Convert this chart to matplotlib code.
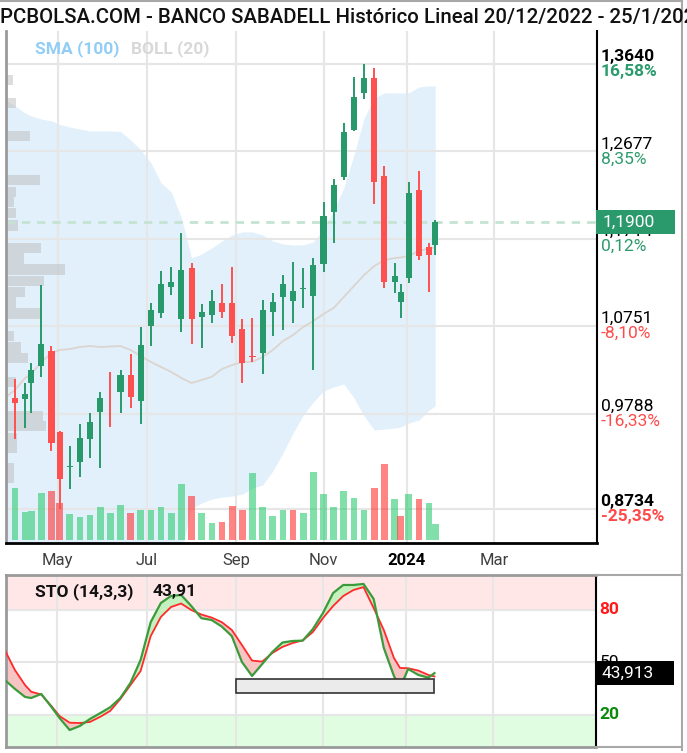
import numpy as np
import pandas as pd
import matplotlib
matplotlib.use("Agg")
import matplotlib.pyplot as plt
import matplotlib.transforms as mtransforms
from matplotlib.patches import Rectangle
from matplotlib.lines import Line2D

plt.rcParams['font.family'] = ['Roboto', 'DejaVu Sans']

title = "PCBOLSA.COM - BANCO SABADELL Histórico Lineal 20/12/2022 - 25/1/2024"

# market holidays: the x axis counts trading days only
holidays = ['2023-04-07', '2023-04-10', '2023-05-01', '2023-12-25', '2023-12-26',
            '2024-01-01', '2024-03-29', '2024-04-01', '2024-05-01']

# weekly candles, dated mid-week; the last one is the running week
weeks = list(pd.date_range('2023-03-29', '2024-01-17', freq='W-WED').strftime('%Y-%m-%d')) + ['2024-01-22']
# indicator series start one week earlier (left edge of the chart)
ind_dates = ['2023-03-22'] + weeks

opens = [0.9958, 0.9947, 1.0123, 1.0317, 1.0483, 0.9584, 0.9205, 0.9253, 0.9507, 0.9811,
         1.0000, 1.0024, 1.0215, 0.9929, 1.0755, 1.0894, 1.1187, 1.0835, 1.1390, 1.0857,
         1.0876, 1.1005, 1.1005, 1.0718, 1.0424, 1.0454, 1.0912, 1.1071, 1.1030, 1.1160,
         1.1088, 1.1434, 1.2013, 1.2396, 1.2913, 1.3324, 1.3489, 1.2410, 1.1242, 1.1016,
         1.1287, 1.2252, 1.1621, 1.1647]
highs = [1.0168, 1.0123, 1.0344, 1.1206, 1.0534, 0.9602, 0.9436, 0.9672, 0.9793, 1.0031,
         1.0245, 1.0270, 1.0443, 1.0747, 1.1005, 1.1364, 1.1408, 1.1775, 1.1445, 1.0997,
         1.1151, 1.1214, 1.1408, 1.0828, 1.0846, 1.1041, 1.1121, 1.1316, 1.1463, 1.1390,
         1.1500, 1.2123, 1.2370, 1.2987, 1.3500, 1.3640, 1.3599, 1.2520, 1.1445, 1.1214,
         1.2344, 1.2462, 1.1665, 1.1922]
lows = [0.9510, 0.9628, 0.9800, 1.0190, 0.9381, 0.8734, 0.8956, 0.9088, 0.9298, 0.9187,
        0.9645, 0.9800, 0.9855, 0.9672, 1.0534, 1.0839, 1.1096, 1.0692, 1.0553, 1.0516,
        1.0784, 1.0846, 1.0571, 1.0130, 1.0361, 1.0226, 1.0644, 1.0710, 1.0784, 1.0956,
        1.0270, 1.1346, 1.1672, 1.2362, 1.2902, 1.3255, 1.2095, 1.1170, 1.1115, 1.0839,
        1.1225, 1.1481, 1.1132, 1.1536]
closes = [0.9910, 1.0006, 1.0270, 1.0556, 0.9469, 0.9066, 0.9215, 0.9524, 0.9694, 0.9965,
          0.9990, 1.0215, 0.9969, 1.0542, 1.0931, 1.1217, 1.1236, 1.1371, 1.0835, 1.0909,
          1.1027, 1.0912, 1.0644, 1.0350, 1.0410, 1.0931, 1.1022, 1.1217, 1.1140, 1.1170,
          1.1426, 1.1966, 1.2307, 1.2894, 1.3277, 1.3489, 1.2337, 1.1236, 1.1309, 1.1132,
          1.2216, 1.1529, 1.1537, 1.1900]
# weekly volume, millions of shares
volumes = [209, 111, 117, 189, 196, 147, 105, 92, 99, 133,
           107, 140, 107, 119, 120, 133, 107, 224, 176, 107,
           69, 71, 135, 120, 267, 133, 97, 120, 120, 107,
           273, 183, 133, 196, 169, 120, 209, 303, 163, 97,
           183, 163, 149, 63]

boll_up = [1.3244, 1.3177, 1.3100, 1.3067, 1.3034, 1.3012, 1.2974, 1.2946, 1.2924, 1.2902,
           1.2902, 1.2902, 1.2897, 1.2803, 1.2693, 1.2550, 1.2329, 1.2230, 1.1944, 1.1503,
           1.1548, 1.1614, 1.1691, 1.1757, 1.1790, 1.1790, 1.1757, 1.1691, 1.1658, 1.1647,
           1.1647, 1.1680, 1.1823, 1.2032, 1.2274, 1.2638, 1.3045, 1.3266, 1.3321, 1.3321,
           1.3321, 1.3321, 1.3387, 1.3398, 1.3398]
boll_low = [0.812, 0.806, 0.803, 0.801, 0.800, 0.795, 0.790, 0.786, 0.784, 0.783,
            0.784, 0.786, 0.790, 0.797, 0.805, 0.812, 0.818, 0.822, 0.828, 0.8750,
            0.8805, 0.8849, 0.8871, 0.8882, 0.8904, 0.8970, 0.9004, 0.9158, 0.9356, 0.9576,
            0.9774, 0.9918, 1.0039, 1.0083, 1.0116, 0.9962, 0.9763, 0.9609, 0.9620, 0.9631,
            0.9642, 0.9686, 0.9719, 0.9830, 0.9874]
sma = [0.9962, 1.0050, 1.0182, 1.0226, 1.0358, 1.0457, 1.0490, 1.0501, 1.0523, 1.0534,
       1.0523, 1.0529, 1.0534, 1.0490, 1.0424, 1.0358, 1.0303, 1.0248, 1.0182, 1.0127,
       1.0160, 1.0196, 1.0281, 1.0325, 1.0358, 1.0361, 1.0413, 1.0490, 1.0589, 1.0655,
       1.0744, 1.0810, 1.0887, 1.0953, 1.1074, 1.1195, 1.1316, 1.1415, 1.1481, 1.1503,
       1.1509, 1.1526, 1.1581, 1.1608, 1.1619]

sto_k = [40.0, 34.9, 30.3, 29.7, 32.0, 24.6, 18.3, 11.4, 13.7, 17.7,
         21.0, 24.4, 29.7, 38.3, 51.4, 73.1, 84.0, 88.0, 88.6, 82.3,
         75.3, 74.3, 70.6, 65.1, 50.3, 42.3, 49.1, 56.0, 61.4, 62.3,
         62.5, 69.1, 78.3, 89.7, 94.3, 94.3, 94.9, 86.3, 58.3, 42.3,
         35.4, 46.3, 42.9, 41.3, 43.91]
sto_d = [57.1, 45.7, 37.1, 33.3, 31.7, 25.1, 19.4, 15.6, 15.4, 16.0,
         18.9, 22.3, 29.1, 37.1, 45.1, 65.1, 76.0, 81.7, 83.7, 80.0,
         77.4, 75.7, 73.1, 68.6, 60.0, 51.1, 50.5, 55.4, 58.9, 61.1,
         62.6, 67.4, 75.4, 82.3, 88.0, 91.4, 93.1, 81.1, 68.6, 52.6,
         46.9, 46.7, 45.4, 42.9, 42.0]

# volume-at-price profile on the left
prof_price = [1.3464, 1.3210, 1.2847, 1.2362, 1.2230, 1.2120, 1.1999, 1.1861, 1.1614, 1.1498,
              1.1377, 1.1250, 1.1129, 1.1013, 1.0892, 1.0644, 1.0518, 1.0402, 1.0138, 0.9763,
              0.9653, 0.9521, 0.9411, 0.9191, 0.9081]
prof_vol = [12, 17, 41, 58, 17, 14, 17, 20, 59, 30,
            100, 64, 32, 17, 59, 14, 25, 37, 17, 63,
            68, 19, 19, 14, 14]

price_ticks = [1.3640, 1.2677, 1.1714, 1.0751, 0.9788, 0.8734]
price_labels = ['1,3640', '1,2677', '1,1714', '1,0751', '0,9788', '0,8734']
pct_labels = ['16,58%', '8,35%', '0,12%', '-8,10%', '-16,33%', '-25,35%']
last_price = 1.19

month_starts = ['2023-05-01', '2023-07-01', '2023-09-01', '2023-11-01', '2024-01-01', '2024-03-01']
month_labels = ['May', 'Jul', 'Sep', 'Nov', '2024', 'Mar']

box_start, box_end = '2023-09-01', '2024-01-22'
box_lo, box_hi = 32.4, 40.4

GREEN = '#27996a'
RED = '#ff5050'
GRID = '#e6e6e6'
PCT_GREEN = '#2b9b6c'
PCT_RED = '#ff4a4a'


def trading_day(dates):
    d = np.array(dates, dtype='datetime64[D]')
    return np.busday_count('2024-01-02', d, holidays=holidays)


xc = trading_day(weeks)
xi = trading_day(ind_dates)
first_days = np.busday_offset(np.array(month_starts, dtype='datetime64[D]'), 0,
                              roll='forward', holidays=holidays)
xm = trading_day(first_days)
xlim = (-197.4, 93.7)

W, H = 687, 753
fig = plt.figure(figsize=(W / 100, H / 100), dpi=100)


def box(l, t, r, b):
    return [l / W, 1 - b / H, (r - l) / W, (b - t) / H]


main_box = box(6, 31, 597, 543)
axb = fig.add_axes(main_box)
axpr = fig.add_axes(main_box)
axv = fig.add_axes(main_box)
axp = fig.add_axes(main_box)
axs = fig.add_axes(box(6, 575, 596, 747))

ylim = (0.8365, 1.4003)

# background: grid + bollinger band
axb.set_xlim(xlim)
axb.set_ylim(ylim)
for v in price_ticks:
    axb.axhline(v, color=GRID, lw=1.5, zorder=2)
for t in xm:
    axb.axvline(t, color=GRID, lw=1.5, zorder=2)
axb.fill_between(xi, boll_low, boll_up, color='#e1f0fb', lw=0, zorder=1)
axb.set_xticks([])
axb.set_yticks([])
for s in axb.spines.values():
    s.set_visible(False)

# volume profile
axpr.barh(prof_price, prof_vol, height=0.0116, left=0, color='#bdbdbd', alpha=0.5, lw=0)
axpr.set_xlim(0, 1000)
axpr.set_ylim(ylim)
axpr.set_axis_off()

# volume bars, coloured by close against previous close
C = np.array(closes)
prev = np.r_[-np.inf, C[:-1]]
vcol = np.where(C >= prev, '#2ecc71', '#ff3333')
axv.bar(xc, volumes, width=3.3, color=vcol, alpha=0.6, lw=0)
axv.set_xlim(xlim)
axv.set_ylim(-12, 2036)
axv.set_axis_off()

# price panel
axp.set_facecolor('none')
axp.set_xlim(xlim)
axp.set_ylim(ylim)
axp.plot(xi, sma, color='#dcd5cf', lw=1.3, zorder=2)
axp.axhline(last_price, color='#c5e3d2', lw=2, ls=(0, (3, 2.5)), zorder=2)
O = np.array(opens)
up = C >= O
ccol = np.where(up, GREEN, RED)
axp.vlines(xc, lows, highs, colors=ccol, lw=1.4, zorder=3)
axp.bar(xc, np.maximum(np.abs(C - O), 0.0008), bottom=np.minimum(O, C), width=3.0,
        color=ccol, lw=0, zorder=4)

axp.set_yticks([])
axp.set_xticks(xm)
axp.set_xticklabels(month_labels, fontsize=12, color='#404040')
axp.tick_params(axis='x', length=0, pad=7)
for lab in axp.get_xticklabels():
    if lab.get_text() == '2024':
        lab.set_fontweight('bold')
        lab.set_color('black')
axp.spines['top'].set_visible(False)
axp.spines['right'].set_color('black')
axp.spines['right'].set_linewidth(1.5)
axp.spines['bottom'].set_color('black')
axp.spines['bottom'].set_linewidth(2)
axp.spines['left'].set_color('#9a9a9a')
axp.spines['left'].set_linewidth(2)

tr = mtransforms.blended_transform_factory(axp.transAxes, axp.transData)
n = len(price_ticks)
for i, (v, lab, pct) in enumerate(zip(price_ticks, price_labels, pct_labels)):
    edge = i == 0 or i == n - 1
    w = 'bold' if edge else 'normal'
    axp.text(1.006, v, lab, transform=tr, ha='left', va='bottom', fontsize=12.5,
             color='black', fontweight=w, clip_on=False)
    axp.text(1.006, v, pct, transform=tr, ha='left', va='top', fontsize=12.5,
             color=PCT_RED if pct.startswith('-') else PCT_GREEN, fontweight=w, clip_on=False)
axp.add_patch(Rectangle((0.998, last_price - 0.0132), 0.134, 0.0264, transform=tr,
                        facecolor='#2a9a6c', edgecolor='none', clip_on=False, zorder=6))
axp.text(1.009, last_price, '1,1900', transform=tr, ha='left', va='center', fontsize=12.5,
         color='white', clip_on=False, zorder=7)

axp.text(0.049, 1.3805, 'SMA (100)', transform=tr, fontsize=12.5, fontweight='bold',
         color='#92cdf5', va='center')
axp.text(0.211, 1.3805, 'BOLL (20)', transform=tr, fontsize=12.5, fontweight='bold',
         color='#d8d8d8', va='center')

# stochastic panel
K = np.array(sto_k)
D = np.array(sto_d)
axs.set_xlim(xlim)
axs.set_ylim(1.7, 100)
axs.axhspan(80, 100, color='#ffe7e7', lw=0, zorder=0)
axs.axhspan(0, 20, color='#e1fde1', lw=0, zorder=0)
for v in (20, 50, 80):
    axs.axhline(v, color=GRID, lw=1.5, zorder=1)
for t in xm:
    axs.axvline(t, color=GRID, lw=1.5, zorder=1)
axs.fill_between(xi, K, D, where=K >= D, interpolate=True, color='#c6f1bf', lw=0, zorder=2)
axs.fill_between(xi, K, D, where=K < D, interpolate=True, color='#f7c4c4', lw=0, zorder=2)
axs.plot(xi, D, color='#ff2a2a', lw=1.3, zorder=3)
axs.plot(xi, K, color='#3b9b3b', lw=1.6, zorder=3)
bx0, bx1 = trading_day([box_start, box_end])
axs.add_patch(Rectangle((bx0, box_lo), bx1 - bx0, box_hi - box_lo, facecolor='#ebebeb',
                        edgecolor='#333333', lw=1.2, zorder=4))
axs.set_xticks([])
axs.set_yticks([])
for side in ('left', 'top', 'bottom'):
    axs.spines[side].set_color('#9a9a9a')
    axs.spines[side].set_linewidth(2)
axs.spines['right'].set_color('black')
axs.spines['right'].set_linewidth(1.5)

trs = mtransforms.blended_transform_factory(axs.transAxes, axs.transData)
axs.text(0.049, 90.3, 'STO (14,3,3)', transform=trs, fontsize=12.5, fontweight='bold',
         va='center', color='#111111')
axs.text(0.249, 90.3, '43,91', transform=trs, fontsize=12.5, fontweight='bold',
         va='center', color='#111111')
axs.text(1.006, 80, '80', transform=trs, fontsize=12.5, fontweight='bold', color='#ff1a1a',
         va='center', clip_on=False)
axs.text(1.006, 50, '50', transform=trs, fontsize=12.5, color='black', va='center',
         clip_on=False)
axs.text(1.006, 20, '20', transform=trs, fontsize=12.5, fontweight='bold', color='#0a8a0a',
         va='center', clip_on=False)
axs.add_patch(Rectangle((0.9985, sto_k[-1] - 6.85), 0.134, 13.7, transform=trs,
                        facecolor='black', edgecolor='none', clip_on=False, zorder=6))
axs.text(1.009, sto_k[-1], '43,913', transform=trs, ha='left', va='center', fontsize=12.5,
         color='white', clip_on=False, zorder=7)

# outer frame and panel separators
def fig_line(x0, y0, x1, y1, color='#a8a8a8', lw=1.5):
    fig.add_artist(Line2D([x0 / W, x1 / W], [1 - y0 / H, 1 - y1 / H],
                          transform=fig.transFigure, color=color, lw=lw))


fig_line(0, 1, 682, 1)
fig_line(682, 1, 682, 750)
fig_line(596, 575, 682, 575)
fig_line(596, 747, 682, 747)

fig.text(0.0, 1 - 17 / H, title, fontsize=14.7, fontweight='medium', ha='left', va='center',
         color='#111111')

fig.savefig('out.png', dpi=100)
